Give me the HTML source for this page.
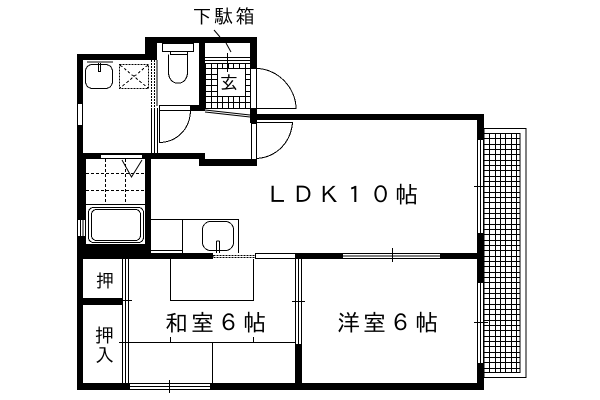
<!DOCTYPE html>
<html><head><meta charset="utf-8"><style>
html,body{margin:0;padding:0;background:#fff}
svg{display:block}
text{font-family:"Liberation Sans","IPAGothic","Noto Sans CJK JP",sans-serif;fill:#000}
</style></head><body>
<svg width="600" height="400" viewBox="0 0 600 400" xmlns="http://www.w3.org/2000/svg" shape-rendering="crispEdges">
<rect width="600" height="400" fill="#fff"/>
<!-- balcony -->
<rect x="484" y="128.500" width="42" height="249" fill="#fff" stroke="#000"/>
<rect x="484" y="133.500" width="36" height="239" fill="#fff" stroke="#000"/>
<path fill="none" stroke="#000" stroke-width="1" d="M489.500 133V373M495.500 133V373M500.500 133V373M505.500 133V373M511.500 133V373M516.500 133V373
M484 138.500H520M484 144.500H520M484 149.500H520M484 154.500H520M484 160.500H520M484 165.500H520M484 170.500H520M484 176.500H520M484 181.500H520M484 186.500H520M484 192.500H520M484 197.500H520M484 202.500H520M484 208.500H520M484 213.500H520M484 218.500H520M484 224.500H520M484 229.500H520M484 234.500H520M484 240.500H520M484 245.500H520M484 250.500H520M484 256.500H520M484 261.500H520M484 266.500H520M484 272.500H520M484 277.500H520M484 282.500H520M484 288.500H520M484 293.500H520M484 298.500H520M484 304.500H520M484 309.500H520M484 314.500H520M484 320.500H520M484 325.500H520M484 330.500H520M484 336.500H520M484 341.500H520M484 346.500H520M484 352.500H520M484 357.500H520M484 362.500H520M484 368.500H520"/>
<!-- walls -->
<g fill="#000">
<rect x="77" y="54" width="74" height="6"/>
<rect x="145" y="37" width="112" height="6"/>
<rect x="145" y="37" width="12" height="23"/>
<rect x="199" y="43" width="6" height="68"/>
<rect x="190" y="105" width="15" height="6"/>
<rect x="250" y="43" width="7" height="25"/>
<rect x="250" y="108" width="7" height="15"/>
<rect x="257" y="114" width="227" height="6"/>
<rect x="477" y="114" width="7" height="25"/>
<rect x="477" y="233" width="7" height="49"/>
<rect x="477" y="363" width="7" height="27"/>
<rect x="77" y="54" width="6" height="336"/>
<rect x="77" y="383" width="52" height="7"/>
<rect x="210" y="383" width="274" height="7"/>
<rect x="83" y="153" width="122" height="6"/>
<rect x="199" y="159" width="58" height="7"/>
<rect x="77" y="153" width="9" height="106"/>
<rect x="145" y="153" width="6" height="106"/>
<rect x="86" y="244" width="65" height="15"/>
<rect x="77" y="253" width="136" height="6"/>
<rect x="295" y="253" width="47" height="6"/>
<rect x="440" y="253" width="44" height="6"/>
<rect x="83" y="298" width="40" height="7"/>
<rect x="295" y="344" width="7" height="39"/>
</g>
<!-- openings -->
<g fill="#fff" stroke="#000">
<rect x="77.500" y="103.500" width="5" height="22"/>
<rect x="100.500" y="154.500" width="42" height="4"/>
<rect x="77.500" y="219.500" width="8" height="17"/>
<rect x="255.500" y="253.500" width="40" height="5"/>
<rect x="342.500" y="253.500" width="98" height="5"/>
<rect x="477.500" y="139.500" width="6" height="94"/>
<rect x="477.500" y="282.500" width="6" height="81"/>
<rect x="129.500" y="383.500" width="81" height="6"/>
<rect x="159.500" y="105.500" width="31" height="5"/>
<rect x="250.500" y="68.500" width="6" height="40"/>
<rect x="251.500" y="123.500" width="5" height="36"/>
</g>
<g fill="none" stroke="#000" stroke-width="1">
<!-- window mids -->
<path d="M80.500 219.500V236M83 219.500V236"/>
<path d="M129 386.500H210M342 256H440M480.500 139V233M480.500 282V363"/>
<path d="M169.500 380V393M392.500 248V262M474 186.500H488M474 322.500H488"/>
<!-- sliding doors washitsu -->
<path d="M122.500 259V383M125.500 259V383M128.500 259V383"/>
<path d="M295.500 259V344M298.500 259V344M301.500 259V344"/>
<path d="M122 300.500H132M292 301.500H305"/>
<!-- tatami -->
<path d="M170.500 259V300.500H253.500V259M119 342.500H295M212.500 342.500V383M170.500 337V342M253.500 337V342"/>
<!-- washroom -->
<rect x="85.500" y="64.500" width="27" height="24" rx="7"/>
<path d="M98.500 63V71.500H100.500V63M87 62H113"/>
<rect x="119.500" y="64.500" width="29" height="24" stroke-dasharray="2 1"/>
<path d="M120 65L148 88M148 65L120 88" stroke-dasharray="3 2"/>
<path d="M151.500 60V108M154.500 60V108" stroke-dasharray="2 1"/>
<path d="M151.500 108V153M154.500 108V153M157.500 108V153M157 60V106"/>
<!-- toilet -->
<rect x="162.500" y="43.500" width="31" height="8"/>
<rect x="170.500" y="51.500" width="17" height="3"/>
<path d="M168.500 54.500V72C168.500 87 187.500 87 187.500 72V54.500"/>
<!-- toilet door -->
<path d="M159.500 111V142.500C178 142 190 128 190.500 111"/>
<!-- entrance doors -->
<path d="M257 108.500H296C296 88 278 69 257 68.500"/>
<path d="M257 122.500H292.500C291 142 277 157 257 158.500"/>
<!-- genkan tiles -->
<path d="M205 57.500H250M205 60.500H250M205 63.500H250M205 68.500H250M205 74.500H217M205 79.500H217M205 85.500H217M205 91.500H217M205 96.500H250M205 102.500H250M205 108.500H250M245 74.500H250M245 79.500H250M245 85.500H250M245 91.500H250"/>
<path d="M205.500 63V108M211.500 63V108M217.500 63V108M222.500 63V68M222.500 96V108M228.500 63V68M228.500 96V108M233.500 63V68M233.500 96V108M239.500 63V68M239.500 96V108M245.500 63V108M227.500 53V72"/>
<path d="M205 110L250 115M205 112L250 117" shape-rendering="auto"/>
<path d="M214 30L220 37M226 43L231 52" shape-rendering="auto"/>
<!-- bath -->
<path d="M86 173.500H145M86 190.500H145M105.500 159V204M125.500 159V204" stroke-dasharray="3 2"/>
<path d="M86 204.500H145"/>
<path d="M122 160L131.500 177L142 160" shape-rendering="auto"/>
<rect x="88.500" y="207.500" width="55" height="35" rx="5"/>
<rect x="91.500" y="209.500" width="49" height="31" rx="5"/>
<!-- kitchen -->
<path d="M151 219.500H238.500V253M182.500 219.500V253M151 250.500H182"/>
<rect x="202.500" y="221.500" width="31" height="29" rx="8"/>
<path d="M216.500 241V253M219.500 241V253M216.500 241H219.500M210 250.500H227"/>
<rect x="213.500" y="255.500" width="42" height="2" stroke-dasharray="2 1"/>
</g>
<!-- labels -->
<text x="192.500" y="23" font-size="19" letter-spacing="2.500">下駄箱</text>
<text x="220" y="89" font-size="18">玄</text>
<text x="266" y="203" font-size="23" letter-spacing="2.800">ＬＤＫ１０帖</text>
<text x="165" y="331" font-size="23" letter-spacing="3">和室６帖</text>
<text x="337" y="331" font-size="23" letter-spacing="3">洋室６帖</text>
<text x="96" y="287" font-size="18">押</text>
<text x="95" y="342" font-size="19">押</text>
<text x="95" y="362" font-size="19">入</text>
</svg>
</body></html>
